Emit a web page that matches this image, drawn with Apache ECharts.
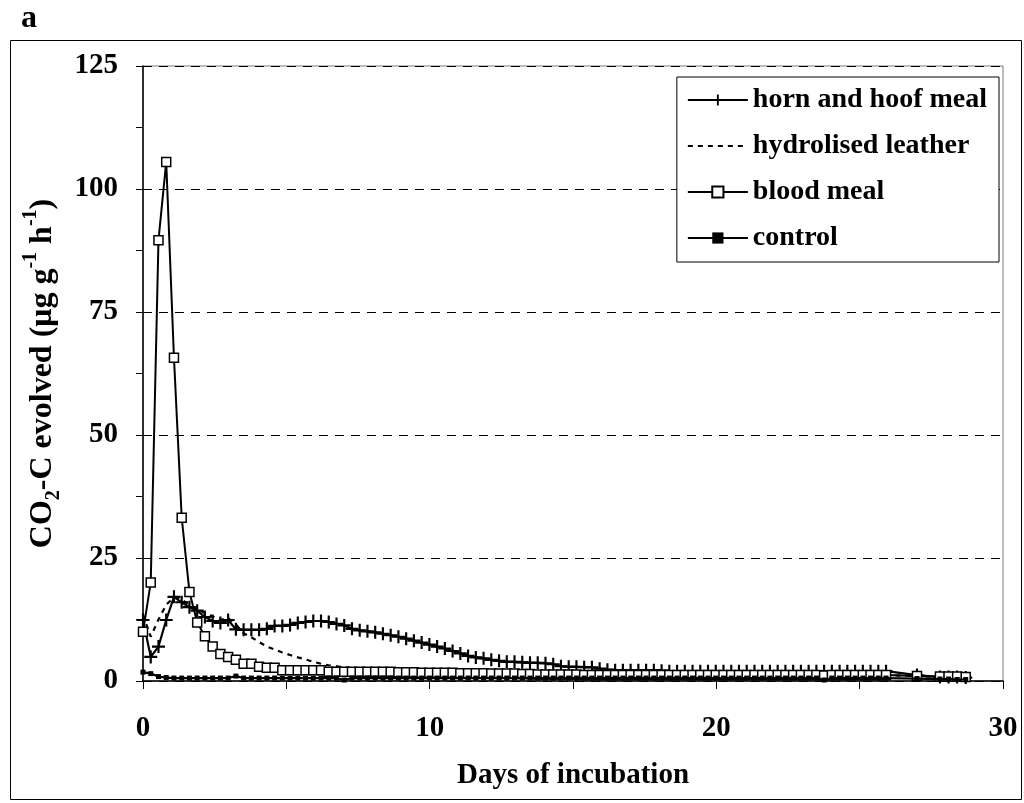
<!DOCTYPE html>
<html>
<head>
<meta charset="utf-8">
<script src="https://cdn.jsdelivr.net/npm/echarts@6/dist/echarts.min.js"></script>
<style>
  html, body { margin: 0; padding: 0; background: #fff; }
  #chart { width: 1024px; height: 803px; }
</style>
</head>
<body>
<div id="chart"></div>
<script>
// Incubation time (days) at each measurement
const days = [
  0, 0.27, 0.54, 0.81, 1.08, 1.35, 1.62, 1.89, 2.16, 2.43,
  2.7, 2.97, 3.24, 3.51, 3.78, 4.05, 4.32, 4.59, 4.86, 5.13,
  5.4, 5.67, 5.94, 6.21, 6.48, 6.75, 7.02, 7.29, 7.56, 7.83,
  8.1, 8.37, 8.64, 8.91, 9.18, 9.45, 9.72, 9.99, 10.26, 10.53,
  10.8, 11.07, 11.34, 11.61, 11.88, 12.15, 12.42, 12.69, 12.96, 13.23,
  13.5, 13.77, 14.04, 14.31, 14.58, 14.85, 15.12, 15.39, 15.66, 15.93,
  16.2, 16.47, 16.74, 17.01, 17.28, 17.55, 17.82, 18.09, 18.36, 18.63,
  18.9, 19.17, 19.44, 19.71, 19.98, 20.25, 20.52, 20.79, 21.06, 21.33,
  21.6, 21.87, 22.14, 22.41, 22.68, 22.95, 23.22, 23.49, 23.76, 24.03,
  24.3, 24.57, 24.84, 25.11, 25.38, 25.65, 25.92,
  27.0, 27.8, 28.1, 28.4, 28.7
];

// CO2-C evolved, µg g-1 h-1
const hornHoofMeal = [
  12.4, 4.9, 7.0, 12.4, 17.1, 16.0, 15.0, 14.3, 13.0, 12.2,
  11.8, 12.4, 10.5, 10.4, 10.4, 10.4, 10.6, 11.2, 11.2, 11.4,
  11.8, 12.0, 12.2, 12.2, 12.0, 11.6, 11.3, 10.6, 10.3, 10.1,
  9.9, 9.6, 9.3, 9.0, 8.6, 8.2, 7.8, 7.4, 7.0, 6.6,
  6.1, 5.6, 5.1, 4.8, 4.6, 4.3, 4.1, 3.9, 3.9, 3.8,
  3.7, 3.7, 3.6, 3.4, 3.0, 2.9, 2.9, 2.8, 2.8, 2.5,
  2.3, 2.2, 2.2, 2.2, 2.2, 2.2, 2.2, 2.1, 2.0, 2.0,
  2.0, 2.0, 2.0, 2.0, 2.0, 2.0, 2.0, 2.0, 2.0, 2.0,
  2.0, 2.0, 2.0, 2.0, 2.0, 2.0, 2.0, 2.0, 2.0, 2.0,
  2.0, 2.0, 2.0, 2.0, 2.0, 2.0, 2.0,
  1.2, 0.8, 0.8, 0.8, 0.7
];

const hydrolisedLeather = [
  13.5, 9.0, 12.5, 15.5, 17.0, 16.5, 15.5, 14.6, 13.8, 13.1,
  12.4, 12.8, 11.5, 9.7, 8.9, 7.9, 7.0, 6.4, 5.8, 5.3,
  4.8, 4.4, 3.9, 3.5, 3.2, 3.0, 2.8, 2.6, 2.4, 2.3,
  2.2, 2.1, 2.0, 2.0, 1.9, 1.9, 1.8, 1.8, 1.8, 1.7,
  1.7, 1.7, 1.6, 1.6, 1.6, 1.5, 1.5, 1.5, 1.5, 1.4,
  1.4, 1.4, 1.4, 1.3, 1.3, 1.3, 1.3, 1.3, 1.3, 1.3,
  1.3, 1.3, 1.3, 1.3, 1.3, 1.3, 1.3, 1.3, 1.3, 1.3,
  1.3, 1.3, 1.3, 1.3, 1.2, 1.2, 1.2, 1.2, 1.2, 1.2,
  1.2, 1.2, 1.2, 1.2, 1.2, 1.2, 1.2, 1.2, 1.2, 1.2,
  1.2, 1.2, 1.2, 1.2, 1.2, 1.2, 1.2,
  1.0, 0.8, 0.8, 0.8, 0.7
];

const bloodMeal = [
  10.0, 20.0, 89.6, 105.5, 65.7, 33.2, 18.1, 11.9, 9.1, 7.0,
  5.5, 4.9, 4.3, 3.5, 3.5, 2.9, 2.7, 2.7, 2.2, 2.2,
  2.2, 2.2, 2.2, 2.2, 1.9, 1.9, 1.9, 1.9, 1.9, 1.9,
  1.9, 1.9, 1.9, 1.8, 1.8, 1.8, 1.7, 1.7, 1.7, 1.7,
  1.7, 1.6, 1.6, 1.6, 1.6, 1.5, 1.5, 1.5, 1.5, 1.4,
  1.4, 1.3, 1.3, 1.3, 1.3, 1.3, 1.3, 1.2, 1.2, 1.2,
  1.2, 1.2, 1.2, 1.2, 1.2, 1.2, 1.2, 1.2, 1.2, 1.2,
  1.2, 1.2, 1.2, 1.2, 1.2, 1.2, 1.2, 1.2, 1.2, 1.2,
  1.2, 1.2, 1.2, 1.2, 1.2, 1.2, 1.2, 1.2, 1.1, 1.2,
  1.2, 1.2, 1.2, 1.2, 1.2, 1.2, 1.2,
  1.0, 0.9, 0.9, 0.9, 0.8
];

const control = [
  1.8, 1.5, 0.9, 0.7, 0.6, 0.6, 0.6, 0.6, 0.6, 0.6,
  0.6, 0.6, 1.0, 0.6, 0.6, 0.6, 0.6, 0.6, 0.6, 0.6,
  0.6, 0.6, 0.6, 0.6, 0.6, 0.6, 0.2, 0.6, 0.6, 0.6,
  0.6, 0.6, 0.6, 0.6, 0.6, 0.6, 0.6, 0.6, 0.6, 0.6,
  0.6, 0.6, 0.6, 0.6, 0.6, 0.6, 0.6, 0.6, 0.6, 0.6,
  0.6, 0.6, 0.6, 0.6, 0.6, 0.6, 0.6, 0.6, 0.6, 0.6,
  0.6, 0.6, 0.6, 0.6, 0.6, 0.6, 0.6, 0.6, 0.6, 0.6,
  0.6, 0.6, 0.6, 0.6, 0.6, 0.6, 0.6, 0.6, 0.6, 0.6,
  0.6, 0.6, 0.6, 0.6, 0.6, 0.6, 0.6, 0.6, 0.2, 0.6,
  0.6, 0.6, 0.6, 0.6, 0.6, 0.6, 0.6,
  0.5, 0.4, 0.4, 0.3, 0.3
];

const seriesNames = ['horn and hoof meal', 'hydrolised leather', 'blood meal', 'control'];

const FONT = '"Liberation Serif", "Times New Roman", serif';
const pair = (vals) => days.map((d, i) => [d, vals[i]]);

// upright cross marker
const plusPath = 'path://M5,0H7V5H12V7H7V12H5V7H0V5H5Z';

const chart = echarts.init(document.getElementById('chart'), null, { renderer: 'canvas' });

chart.setOption({
  animation: false,
  backgroundColor: '#fff',
  textStyle: { fontFamily: FONT },
  grid: {
    left: 143, right: 21, top: 66, bottom: 122,
    show: true, borderColor: '#7a7a7a', borderWidth: 1, backgroundColor: 'transparent'
  },
  graphic: [
    {
      type: 'rect', left: 8, top: 38, z: -1,
      shape: { width: 1011, height: 759 },
      style: { fill: 'none', stroke: '#000', lineWidth: 1 }
    },
    {
      type: 'text', left: 21, top: 3,
      style: { text: 'a', font: 'bold 32px ' + FONT, fill: '#000' }
    }
  ],
  legend: {
    orient: 'vertical',
    right: 25, top: 77,
    data: [
      { name: seriesNames[0] },
      { name: seriesNames[1], itemStyle: { opacity: 0 } },
      { name: seriesNames[2] },
      { name: seriesNames[3] }
    ],
    itemWidth: 60, itemHeight: 14, itemGap: 18,
    padding: [9, 12, 10, 10],
    backgroundColor: '#fff',
    borderColor: '#000', borderWidth: 1,
    textStyle: { fontFamily: FONT, fontWeight: 'bold', fontSize: 28, color: '#000', lineHeight: 28 }
  },
  xAxis: {
    type: 'value', min: 0, max: 30, interval: 10,
    name: 'Days of incubation',
    nameLocation: 'middle', nameGap: 80,
    nameTextStyle: { fontFamily: FONT, fontWeight: 'bold', fontSize: 29, color: '#000' },
    axisLine: { show: true, lineStyle: { color: '#000', width: 1.5 } },
    axisTick: { show: true, inside: false, length: 8, lineStyle: { color: '#000', width: 1 } },
    minorTick: { show: true, splitNumber: 2, length: 8, lineStyle: { color: '#000', width: 1 } },
    axisLabel: { fontFamily: FONT, fontWeight: 'bold', fontSize: 29, color: '#000', margin: 33 },
    splitLine: { show: false }
  },
  yAxis: {
    type: 'value', min: 0, max: 125, interval: 25,
    name: '{n|CO}{sub|2}{n|-C evolved (μg g}{sup|-1}{n| h}{sup|-1}{n|)}',
    nameLocation: 'middle', nameGap: 72, nameRotate: 90,
    nameTextStyle: {
      color: '#000',
      rich: {
        n: { fontFamily: FONT, fontWeight: 'bold', fontSize: 32, color: '#000', verticalAlign: 'bottom', lineHeight: 38 },
        sub: { fontFamily: FONT, fontWeight: 'bold', fontSize: 20, color: '#000', verticalAlign: 'bottom', lineHeight: 38, padding: [0, 0, -5, 0] },
        sup: { fontFamily: FONT, fontWeight: 'bold', fontSize: 20, color: '#000', verticalAlign: 'top', lineHeight: 38 }
      }
    },
    axisLine: { show: true, lineStyle: { color: '#000', width: 1.5 } },
    axisTick: { show: true, inside: false, length: 7, lineStyle: { color: '#000', width: 1 } },
    minorTick: { show: true, splitNumber: 2, length: 7, lineStyle: { color: '#000', width: 1 } },
    axisLabel: { fontFamily: FONT, fontWeight: 'bold', fontSize: 29, color: '#000', margin: 25 },
    splitLine: { show: true, lineStyle: { color: '#000', width: 1, type: [9, 7] } }
  },
  series: [
    {
      name: seriesNames[0], type: 'line', data: pair(hornHoofMeal),
      symbol: plusPath, symbolSize: 13, showAllSymbol: true,
      lineStyle: { color: '#000', width: 2.2 },
      itemStyle: { color: '#000' }, z: 2
    },
    {
      name: seriesNames[1], type: 'line', data: pair(hydrolisedLeather),
      symbol: 'none', showSymbol: false,
      lineStyle: { color: '#000', width: 2.2, type: [5, 5] },
      itemStyle: { color: '#000' }, z: 3
    },
    {
      name: seriesNames[2], type: 'line', data: pair(bloodMeal),
      symbol: 'rect', symbolSize: 9, showAllSymbol: true,
      lineStyle: { color: '#000', width: 2 },
      itemStyle: { color: '#fff', borderColor: '#000', borderWidth: 1.5 }, z: 4
    },
    {
      name: seriesNames[3], type: 'line', data: pair(control),
      symbol: 'rect', symbolSize: 5, showAllSymbol: true,
      lineStyle: { color: '#000', width: 2.2 },
      itemStyle: { color: '#000' }, z: 5
    }
  ]
});
</script>
</body>
</html>
